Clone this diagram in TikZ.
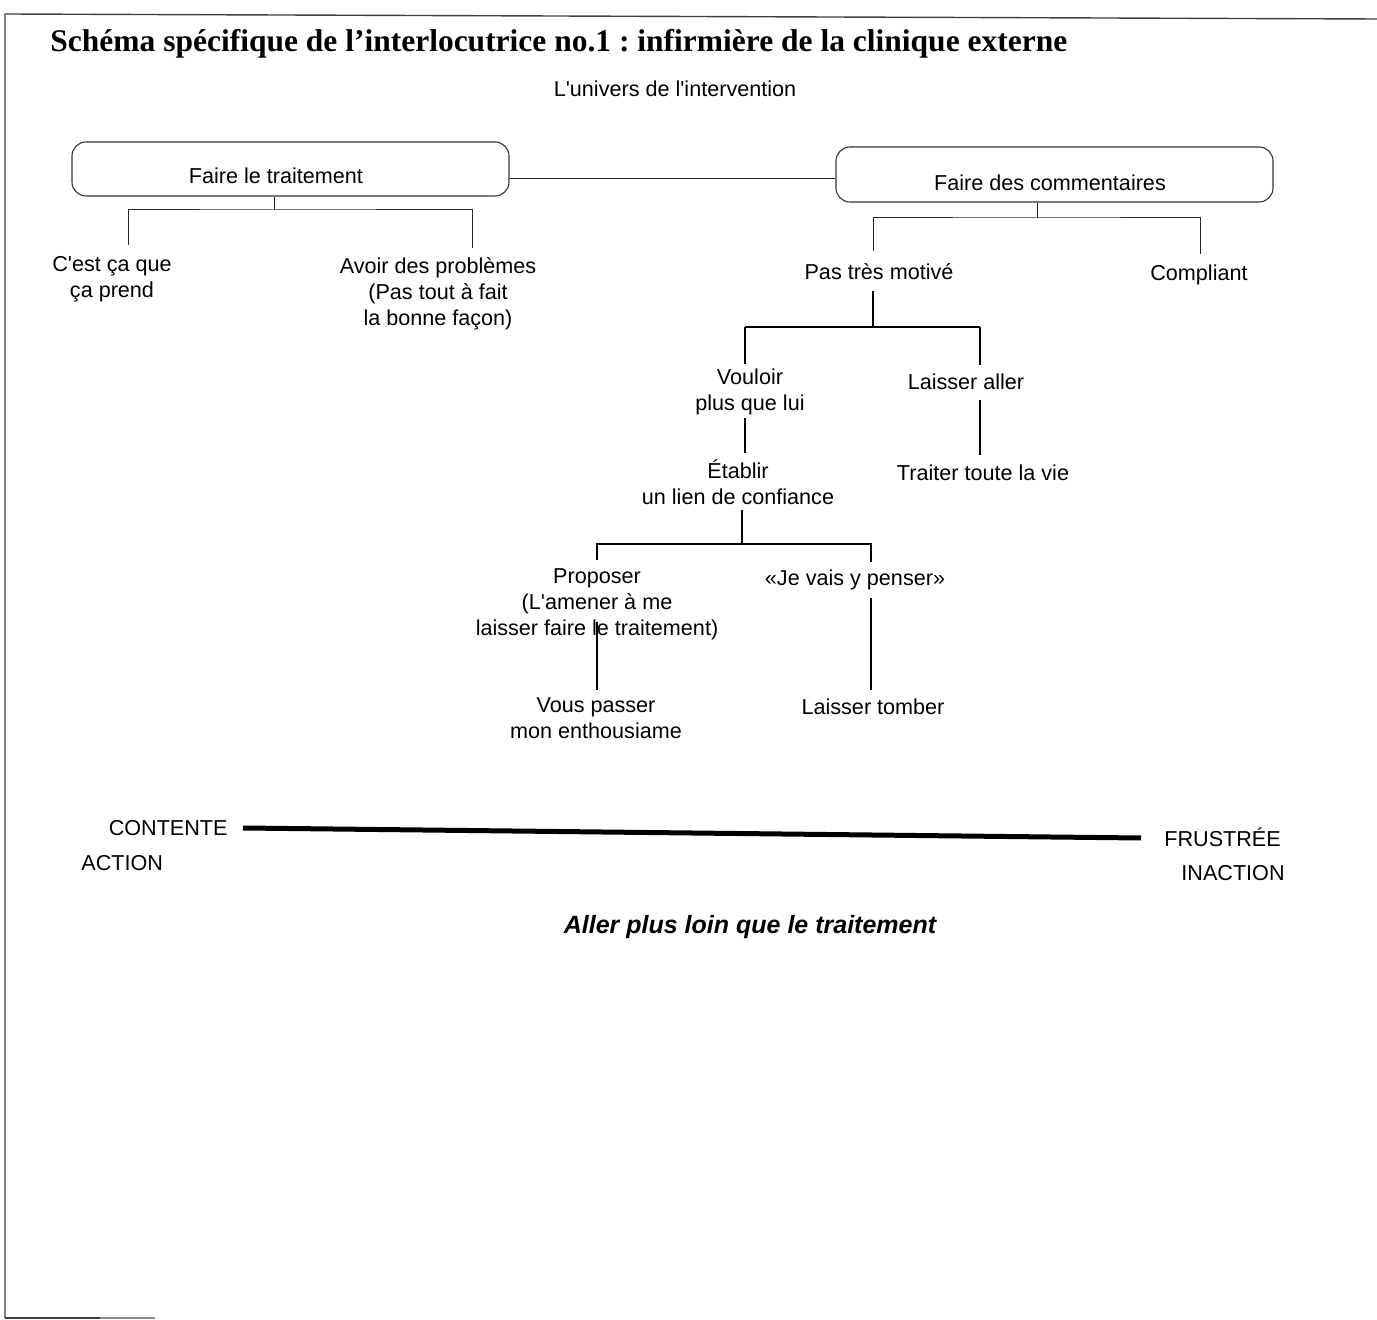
\documentclass[tikz,border=0pt]{standalone}
\usepackage{fontspec}
\newfontfamily\bodyfont{Liberation Sans}
\newfontfamily\titlefont{Liberation Serif}
\usetikzlibrary{calc}
\frenchspacing
\begin{document}
\begin{tikzpicture}[x=0.5pt,y=-0.5pt,
  lbl/.style={font=\bodyfont\fontsize{10.8}{13}\selectfont, align=center, inner sep=0pt},
  box/.style={draw=black!80, line width=0.55pt, rounded corners=7pt, minimum width=218.5pt, inner sep=0pt},
  thinline/.style={draw=black!85, line width=0.5pt},
  treeline/.style={draw=black, line width=0.75pt},
  barline/.style={draw=black, line width=1.2pt},
  frameline/.style={draw=black!75, line width=0.7pt}]
\useasboundingbox (0,0) rectangle (1377,1320);
\fill[white] (0,0) rectangle (1377,1320);

% page frame
\draw[frameline] (5,1318) -- (5,14) -- (1377,19);
\draw[frameline] (5,1318) -- (100,1318);
\draw[draw=black!45, line width=0.6pt] (100,1318) -- (155,1318);

% headings
\node[anchor=base west, inner sep=0pt, font=\titlefont\bfseries\fontsize{15.75}{18}\selectfont] (title) at (50,52)
  {Schéma spécifique de l’interlocutrice no.1 : infirmière de la clinique externe};
\node[lbl] (univ) at (675,89) {L'univers de l'intervention};

% the two rounded boxes
\node[box, minimum height=27pt] (b1) at (290.5,169) {};
\node[lbl] (b1t) at (276,176) {Faire le traitement};
\node[box, minimum height=27.5pt] (b2) at (1054.5,174.5) {};
\node[lbl] (b2t) at (1050,183) {Faire des commentaires};
\draw[thinline] ($(b1.east)+(0,10)$) -- ($(b2.west)+(0,4.5)$);

% labels
\node[lbl] (cest) at (112,279) {C'est ça que\\ça prend};
\node[lbl] (avoir) at (438,294) {Avoir des problèmes\\(Pas tout à fait\\la bonne façon)};
\node[lbl] (pas) at (879,272) {Pas très motivé};
\node[lbl] (compl) at (1199,275) {Compliant};
\node[lbl] (voul) at (750,392) {Vouloir\\plus que lui};
\node[lbl] (laller) at (966,382) {Laisser aller};
\node[lbl] (etab) at (738,482) {Établir\\un lien de confiance};
\node[lbl] (trait) at (983,473) {Traiter toute la vie};
\node[lbl] (prop) at (597,604) {Proposer\\(L'amener à me\\laisser faire le traitement)};
\node[lbl] (jevais) at (855,580) {«Je vais y penser»};
\node[lbl] (vous) at (596,718) {Vous passer\\mon enthousiame};
\node[lbl] (ltomb) at (873,707) {Laisser tomber};

% junction points of the tree
\coordinate (j1) at (274,210);
\coordinate (l1a) at (128,245);
\coordinate (l1b) at (472,248);
\coordinate (j2) at (1037,218);
\coordinate (l2a) at (873,251);
\coordinate (l2b) at (1200,254);
\coordinate (s3) at (873,291);
\coordinate (j3) at (873,327);
\coordinate (l3a) at (745,364);
\coordinate (l3b) at (980,365);
\coordinate (v1) at (745,418);
\coordinate (v2) at (745,453);
\coordinate (a1) at (980,400);
\coordinate (a2) at (980,455);
\coordinate (s4) at (742,510);
\coordinate (j4) at (742,544);
\coordinate (l4a) at (597,560);
\coordinate (l4b) at (871,562);
\coordinate (p1) at (597,622);
\coordinate (p2) at (597,690);
\coordinate (q1) at (871,598);
\coordinate (q2) at (871,690);

% tree connectors
\draw[thinline] (j1 |- b1.south) -- (j1);
\draw[thinline] (l1a) |- (j1) -| (l1b);
\draw[thinline] (j2 |- b2.south) -- (j2);
\draw[thinline] (l2a) |- (j2) -| (l2b);
\draw[treeline] (s3) -- (j3);
\draw[treeline] (l3a) -- (l3a |- j3);
\draw[treeline] (l3b) -- (l3b |- j3);
\draw[barline] (l3a |- j3) -- (l3b |- j3);
\draw[treeline] (v1) -- (v2);
\draw[treeline] (a1) -- (a2);
\draw[treeline] (s4) -- (j4);
\draw[treeline] (l4a) |- (j4) -| (l4b);
\draw[treeline] (p1) -- (p2);
\draw[treeline] (q1) -- (q2);

% continuum
\node[lbl, anchor=east] (contente) at (228,828) {CONTENTE};
\node[lbl, anchor=west] (action) at (81,863) {ACTION};
\node[lbl, anchor=west] (frustree) at (1164,837) {FRUSTRÉE};
\node[lbl, anchor=west] (inaction) at (1181,873) {INACTION};
\coordinate (c1) at (243,828);
\coordinate (c2) at (1141,838);
\draw[draw=black, line width=2.5pt] (c1) -- (c2);

\node[lbl, font=\bodyfont\bfseries\itshape\fontsize{12.5}{15}\selectfont] (aller) at (750,927) {Aller plus loin que le traitement};
\end{tikzpicture}
\end{document}
